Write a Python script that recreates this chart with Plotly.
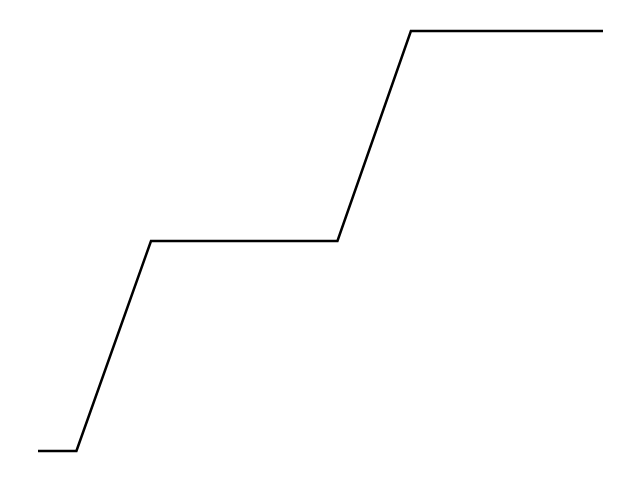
import plotly.graph_objects as go

x_values = [0, 1.02, 3, 7.95, 9.9, 15]
y_values = [0, 0, 1, 1, 2, 2]

fig = go.Figure(go.Scatter(x=x_values, y=y_values, mode="lines",
                           line=dict(color="black", width=2.5), hoverinfo="skip"))

fig.update_layout(
    width=640, height=482,
    margin=dict(l=22, r=38, t=12, b=28),
    paper_bgcolor="white", plot_bgcolor="white",
    showlegend=False,
    xaxis=dict(range=[-0.2124, 15.186], visible=False, fixedrange=True),
    yaxis=dict(range=[-0.05238, 2.0524], visible=False, fixedrange=True),
)

fig.write_html("out.html", config={"displayModeBar": False})
